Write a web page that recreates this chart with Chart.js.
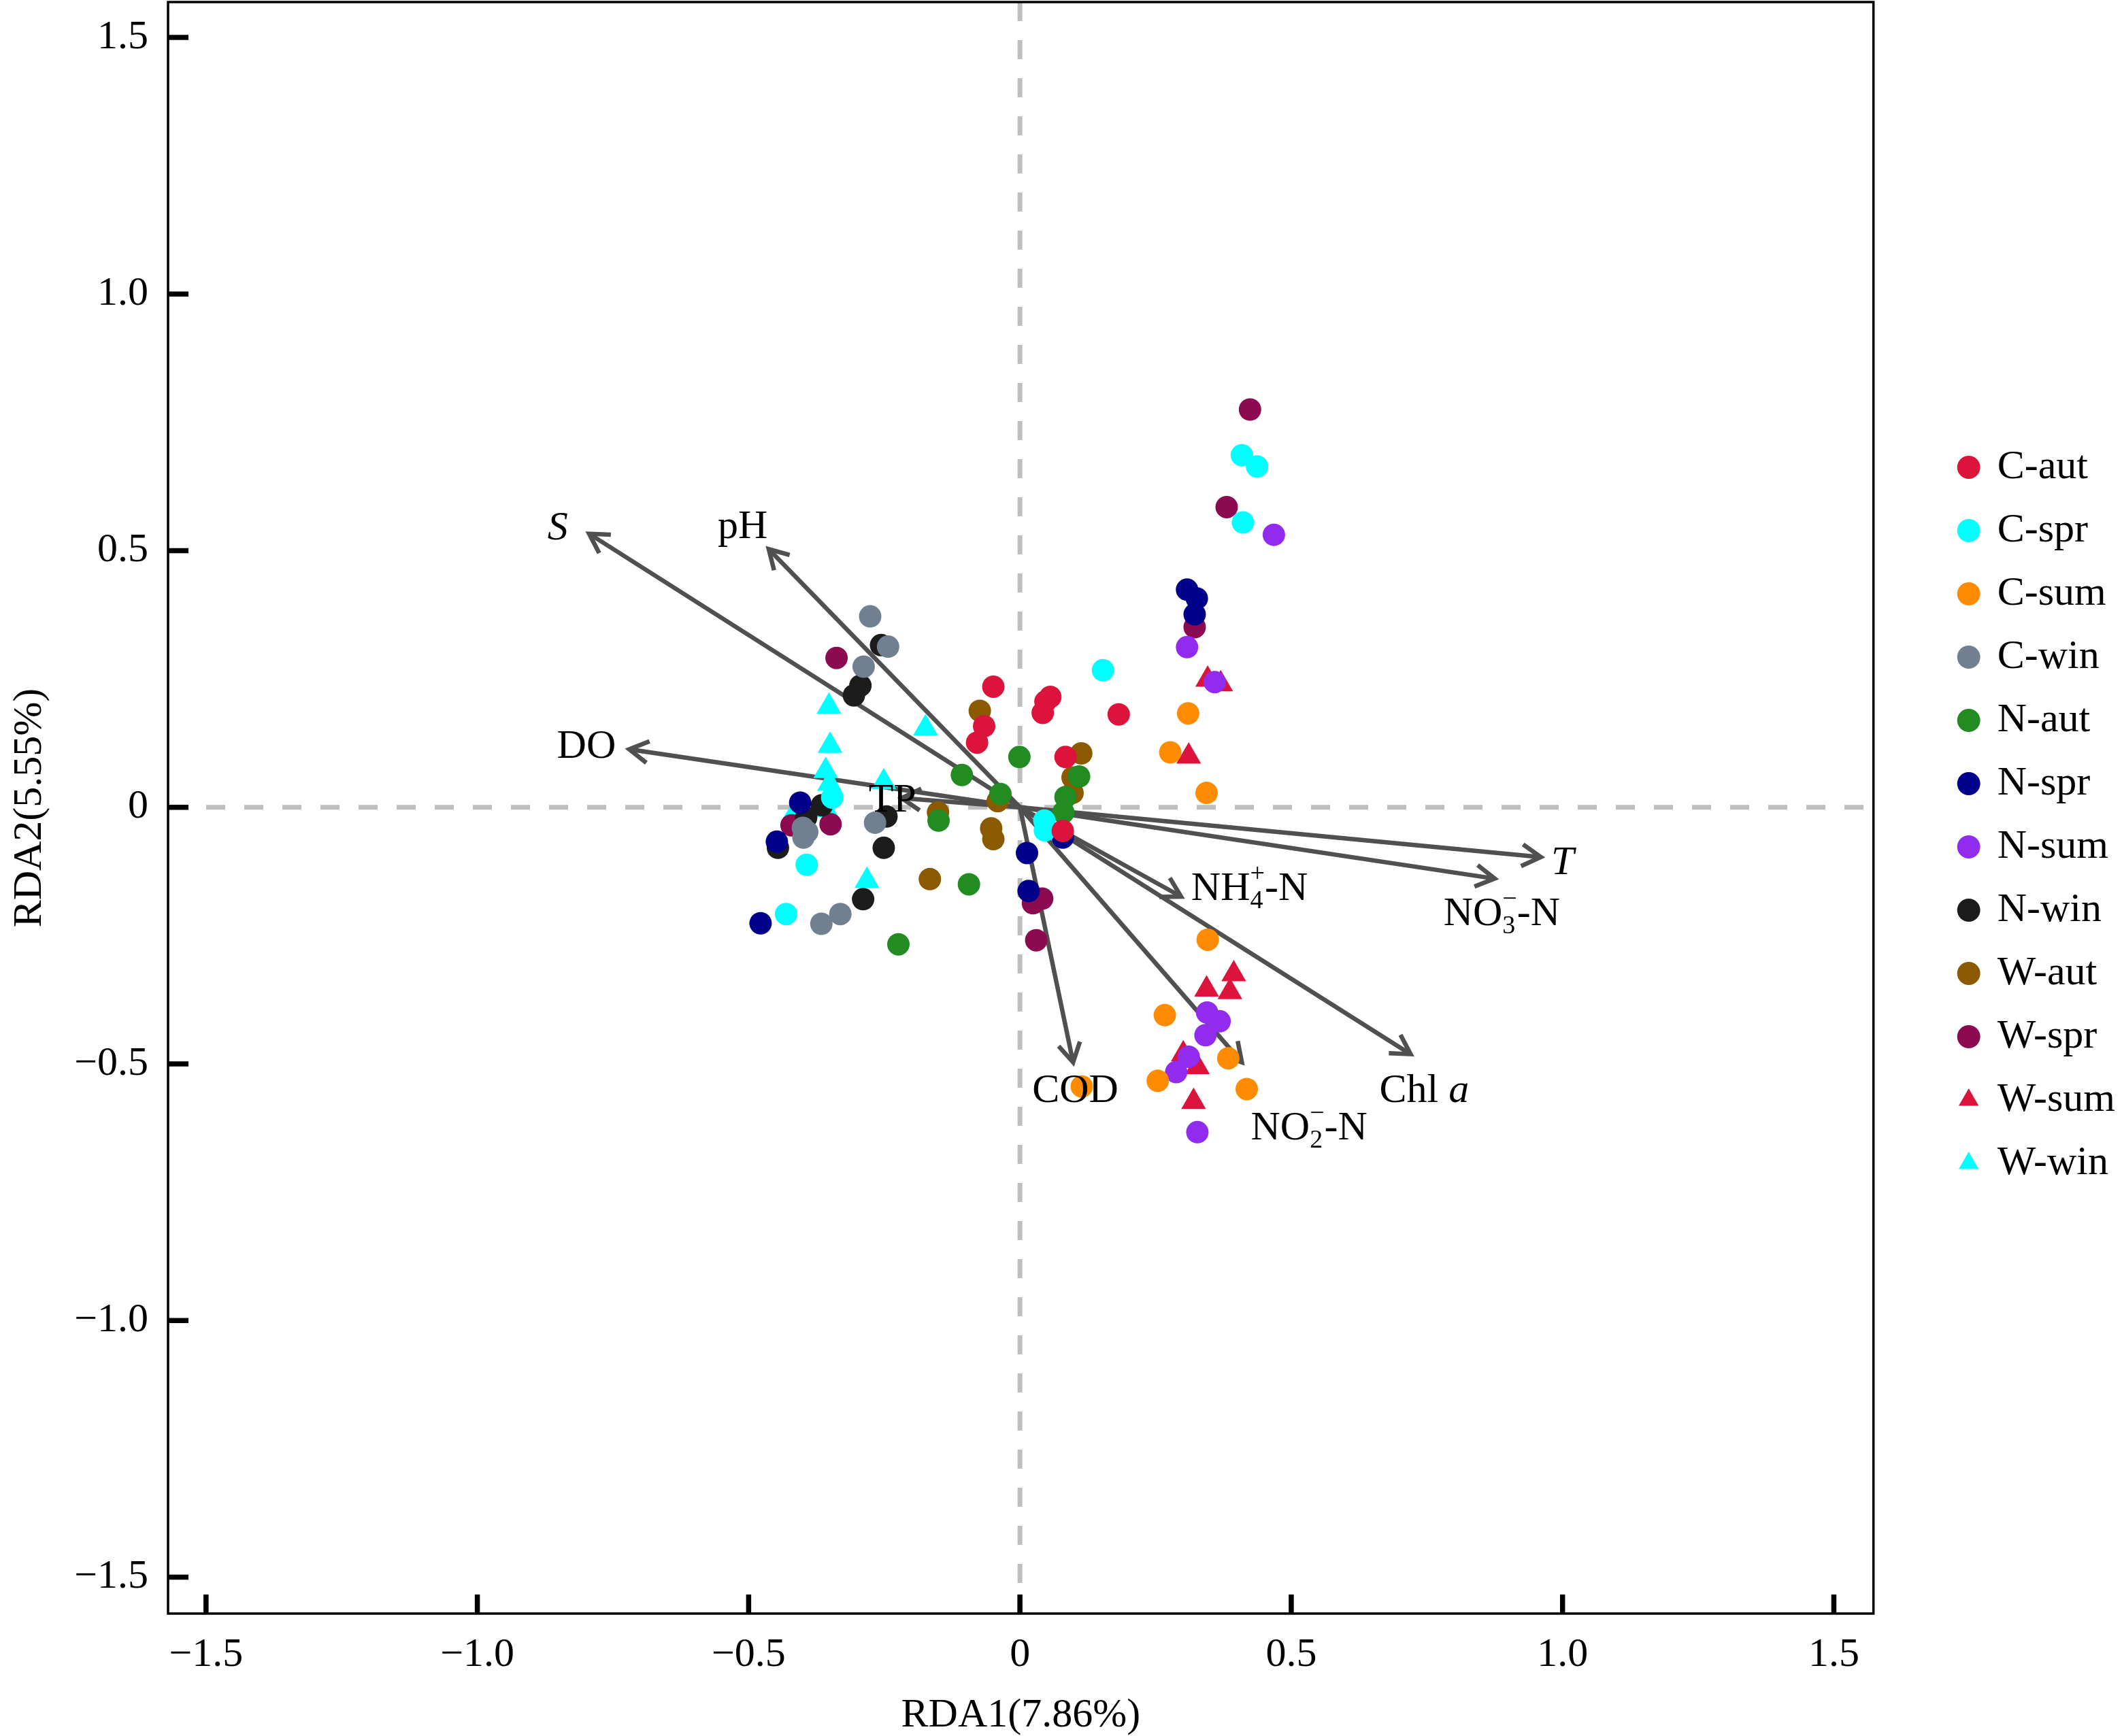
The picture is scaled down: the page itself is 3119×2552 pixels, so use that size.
<!DOCTYPE html>
<html>
<head>
<meta charset="utf-8">
<title>RDA biplot</title>
<script src="https://cdn.jsdelivr.net/npm/chart.js@4.4.0/dist/chart.umd.min.js"></script>
<style>
  html, body { margin: 0; padding: 0; background: #fff; }
  #wrap { width: 3119px; height: 2552px; position: relative; }
</style>
</head>
<body>
<div id="wrap"><canvas id="rdaChart"></canvas></div>
<script>
// sample scores (RDA1, RDA2) per group
const cAut = [[-0.049, 0.235], [-0.066, 0.158], [-0.079, 0.126], [0.056, 0.215], [0.047, 0.206], [0.042, 0.184], [0.182, 0.181], [0.084, 0.098], [0.079, -0.046]];
const cSpr = [[0.153, 0.267], [0.045, -0.026], [0.046, -0.045], [-0.346, 0.019], [-0.393, -0.112], [-0.431, -0.208], [0.409, 0.686], [0.437, 0.664], [0.411, 0.555]];
const cSum = [[0.310, 0.183], [0.277, 0.107], [0.344, 0.028], [0.346, -0.258], [0.267, -0.405], [0.254, -0.533], [0.384, -0.489], [0.418, -0.549], [0.114, -0.544]];
const cWin = [[-0.276, 0.372], [-0.243, 0.313], [-0.288, 0.274], [-0.400, -0.040], [-0.392, -0.048], [-0.399, -0.059], [-0.267, -0.030], [-0.366, -0.227], [-0.331, -0.208]];
const nAut = [[-0.001, 0.098], [-0.107, 0.063], [-0.036, 0.026], [-0.150, -0.026], [-0.094, -0.150], [-0.224, -0.267], [0.109, 0.060], [0.084, 0.020], [0.080, -0.010]];
const nSpr = [[-0.405, 0.009], [-0.448, -0.067], [-0.478, -0.226], [0.013, -0.089], [0.016, -0.163], [0.079, -0.059], [0.308, 0.424], [0.326, 0.407], [0.322, 0.376]];
const nSum = [[0.468, 0.531], [0.308, 0.312], [0.359, 0.244], [0.345, -0.400], [0.368, -0.417], [0.342, -0.444], [0.311, -0.486], [0.288, -0.516], [0.327, -0.633]];
const nWin = [[-0.256, 0.316], [-0.294, 0.237], [-0.306, 0.218], [-0.365, 0.004], [-0.394, -0.020], [-0.446, -0.079], [-0.246, -0.018], [-0.251, -0.079], [-0.289, -0.179]];
const wAut = [[-0.074, 0.188], [-0.041, 0.012], [-0.053, -0.041], [-0.049, -0.062], [-0.151, -0.010], [-0.166, -0.140], [0.113, 0.105], [0.097, 0.058], [0.097, 0.028]];
const wSpr = [[-0.338, 0.291], [-0.421, -0.035], [-0.349, -0.033], [0.041, -0.178], [0.024, -0.187], [0.030, -0.259], [0.424, 0.775], [0.381, 0.585], [0.322, 0.351]];
const wSum = [[0.346, 0.249], [0.370, 0.240], [0.311, 0.099], [0.394, -0.325], [0.387, -0.360], [0.344, -0.355], [0.301, -0.481], [0.327, -0.506], [0.320, -0.574]];
const wWin = [[-0.352, 0.196], [-0.174, 0.154], [-0.350, 0.120], [-0.358, 0.071], [-0.351, 0.046], [-0.251, 0.049], [-0.415, -0.010], [-0.357, -0.005], [-0.282, -0.143]];

const groupNames = ['C-aut', 'C-spr', 'C-sum', 'C-win', 'N-aut', 'N-spr', 'N-sum', 'N-win', 'W-aut', 'W-spr', 'W-sum', 'W-win'];
const groupData = [cAut, cSpr, cSum, cWin, nAut, nSpr, nSum, nWin, wAut, wSpr, wSum, wWin];
const groupColors = ['#DC143C', '#00FFFF', '#FF8C00', '#708090', '#228B22', '#00008B', '#912CEE', '#1C1C1C', '#8B5A00', '#8B0A50', '#DC143C', '#00FFFF'];
const groupShapes = ['circle', 'circle', 'circle', 'circle', 'circle', 'circle', 'circle', 'circle', 'circle', 'circle', 'triangle', 'triangle'];

// environmental vectors: arrow tips and where their labels sit
const envNames = ['S', 'pH', 'DO', 'TP', 'T', 'NO3-N', 'NH4-N', 'Chl a', 'NO2-N', 'COD'];
const envX = [-0.794, -0.463, -0.720, -0.218, 0.960, 0.875, 0.297, 0.720, 0.409, 0.098];
const envY = [0.533, 0.503, 0.113, 0.018, -0.097, -0.139, -0.174, -0.481, -0.497, -0.497];
const labelX = [-0.852, -0.511, -0.799, -0.235, 1.000, 0.888, 0.423, 0.745, 0.533, 0.102];
const labelY = [0.5225, 0.524, 0.097, -0.008, -0.130, -0.229, -0.180, -0.574, -0.647, -0.574];

const axisTicks = [-1.5, -1.0, -0.5, 0, 0.5, 1.0, 1.5];
const xTitle = 'RDA1(7.86%)';
const yTitle = 'RDA2(5.55%)';

const FAM = "'Liberation Serif', 'Times New Roman', Times, serif";
Chart.defaults.font.family = FAM;
Chart.defaults.color = '#000';

// label pieces: t = text, i = italic, sup/sub = stacked indices
const envParts = [
  [{ t: 'S', i: true }],
  [{ t: 'pH' }],
  [{ t: 'DO' }],
  [{ t: 'TP' }],
  [{ t: 'T', i: true }],
  [{ t: 'NO' }, { sup: '\u2212', sub: '3' }, { t: '-N' }],
  [{ t: 'NH' }, { sup: '+', sub: '4' }, { t: '-N' }],
  [{ t: 'Chl ' }, { t: 'a', i: true }],
  [{ t: 'NO' }, { sup: '\u2212', sub: '2' }, { t: '-N' }],
  [{ t: 'COD' }]
];

function fmtTick(v) {
  if (v === 0) return '0';
  return (v < 0 ? '\u2212' : '') + Math.abs(v).toFixed(1);
}

function drawRich(ctx, parts, cx, by) {
  const big = 60, small = 38;
  const fontOf = (p, size) => (p.i ? 'italic ' : '') + size + 'px ' + FAM;
  const widths = parts.map(p => {
    if (p.t !== undefined) { ctx.font = fontOf(p, big); return ctx.measureText(p.t).width; }
    ctx.font = fontOf(p, small);
    return Math.max(ctx.measureText(p.sup).width, ctx.measureText(p.sub).width);
  });
  const total = widths.reduce((s, v) => s + v, 0);
  let xx = cx - total / 2;
  ctx.textAlign = 'left';
  ctx.textBaseline = 'alphabetic';
  ctx.fillStyle = '#000';
  parts.forEach((p, k) => {
    if (p.t !== undefined) {
      ctx.font = fontOf(p, big);
      ctx.fillText(p.t, xx, by);
    } else {
      ctx.font = fontOf(p, small);
      ctx.fillText(p.sup, xx, by - 27);
      ctx.fillText(p.sub, xx, by + 12);
    }
    xx += widths[k];
  });
}

const rdaDecor = {
  id: 'rdaDecor',
  beforeDatasetsDraw(chart) {
    const { ctx, chartArea: a } = chart;
    const xs = chart.scales.x, ys = chart.scales.y;
    const x0 = xs.getPixelForValue(0), y0 = ys.getPixelForValue(0);
    ctx.save();
    // dashed zero lines
    ctx.strokeStyle = '#bebebe';
    ctx.lineWidth = 7;
    ctx.setLineDash([28, 28]);
    ctx.beginPath();
    ctx.moveTo(a.left, y0); ctx.lineTo(a.right, y0);
    ctx.moveTo(x0, a.top); ctx.lineTo(x0, a.bottom);
    ctx.stroke();
    ctx.setLineDash([]);
    // arrows
    ctx.strokeStyle = '#505050';
    ctx.lineWidth = 6.5;
    ctx.lineJoin = 'miter';
    const head = 32;
    envX.forEach((ex, i) => {
      const px = xs.getPixelForValue(ex), py = ys.getPixelForValue(envY[i]);
      const ang = Math.atan2(py - y0, px - x0);
      ctx.beginPath();
      ctx.moveTo(x0, y0); ctx.lineTo(px, py);
      ctx.stroke();
      ctx.beginPath();
      ctx.moveTo(px - head * Math.cos(ang - Math.PI / 6), py - head * Math.sin(ang - Math.PI / 6));
      ctx.lineTo(px, py);
      ctx.lineTo(px - head * Math.cos(ang + Math.PI / 6), py - head * Math.sin(ang + Math.PI / 6));
      ctx.stroke();
    });
    ctx.restore();
  },
  afterDatasetsDraw(chart) {
    const { ctx, chartArea: a } = chart;
    const xs = chart.scales.x, ys = chart.scales.y;
    ctx.save();
    envParts.forEach((parts, i) => {
      drawRich(ctx, parts, xs.getPixelForValue(labelX[i]), ys.getPixelForValue(labelY[i]));
    });
    // frame
    ctx.strokeStyle = '#000';
    ctx.lineWidth = 3.5;
    ctx.strokeRect(a.left, a.top, a.right - a.left, a.bottom - a.top);
    // inward ticks on bottom and left
    ctx.lineWidth = 7.5;
    ctx.beginPath();
    axisTicks.forEach(v => {
      const px = xs.getPixelForValue(v);
      ctx.moveTo(px, a.bottom); ctx.lineTo(px, a.bottom - 28);
      const py = ys.getPixelForValue(v);
      ctx.moveTo(a.left, py); ctx.lineTo(a.left + 30, py);
    });
    ctx.stroke();
    ctx.restore();
  }
};

const datasets = groupNames.map((name, i) => ({
  label: name,
  data: groupData[i].map(p => ({ x: p[0], y: p[1] })),
  backgroundColor: groupColors[i],
  borderColor: groupColors[i],
  borderWidth: 0,
  pointStyle: groupShapes[i],
  pointRadius: groupShapes[i] === 'triangle' ? 21 : 16.5,
  pointHoverRadius: groupShapes[i] === 'triangle' ? 21 : 16.5
}));

function noPad(s) {
  s.paddingTop = 0; s.paddingBottom = 0; s.paddingLeft = 0; s.paddingRight = 0;
}

new Chart(document.getElementById('rdaChart'), {
  type: 'scatter',
  data: { datasets: datasets },
  options: {
    responsive: true,
    maintainAspectRatio: false,
    devicePixelRatio: 1,
    animation: false,
    events: [],
    layout: { autoPadding: false, padding: { top: 3, left: 0, right: 0, bottom: 0 } },
    scales: {
      x: {
        type: 'linear',
        position: 'bottom',
        min: -1.57,
        max: 1.573,
        afterBuildTicks: s => { s.ticks = axisTicks.map(v => ({ value: v })); },
        afterFit: s => { s.height = 180; noPad(s); },
        grid: { display: false, drawTicks: false },
        border: { display: false },
        ticks: { padding: 25, color: '#000', font: { size: 60 }, maxRotation: 0, callback: fmtTick },
        title: { display: true, text: xTitle, color: '#000', font: { size: 60, lineHeight: 1 }, padding: { top: 0, bottom: 0 } }
      },
      y: {
        type: 'linear',
        position: 'left',
        min: -1.571,
        max: 1.569,
        afterBuildTicks: s => { s.ticks = axisTicks.map(v => ({ value: v })); },
        afterFit: s => { s.width = 247; noPad(s); },
        grid: { display: false, drawTicks: false },
        border: { display: false },
        ticks: { padding: 29, color: '#000', font: { size: 60 }, callback: fmtTick },
        title: { display: true, text: yTitle, color: '#000', font: { size: 60, lineHeight: 1 }, padding: { top: 14, bottom: 0 } }
      },
      gap: {
        type: 'linear',
        position: 'right',
        display: true,
        afterFit: s => { s.width = 95; noPad(s); },
        grid: { display: false, drawTicks: false },
        border: { display: false },
        ticks: { display: false }
      }
    },
    plugins: {
      legend: {
        position: 'right',
        fullSize: false,
        align: 'center',
        title: { display: true, text: ' ', font: { size: 10, lineHeight: 1.2 }, padding: 5 },
        labels: {
          usePointStyle: true,
          boxWidth: 24,
          boxHeight: 24,
          padding: 33,
          color: '#000',
          font: { size: 60 }
        }
      },
      tooltip: { enabled: false }
    }
  },
  plugins: [rdaDecor]
});
</script>
</body>
</html>
